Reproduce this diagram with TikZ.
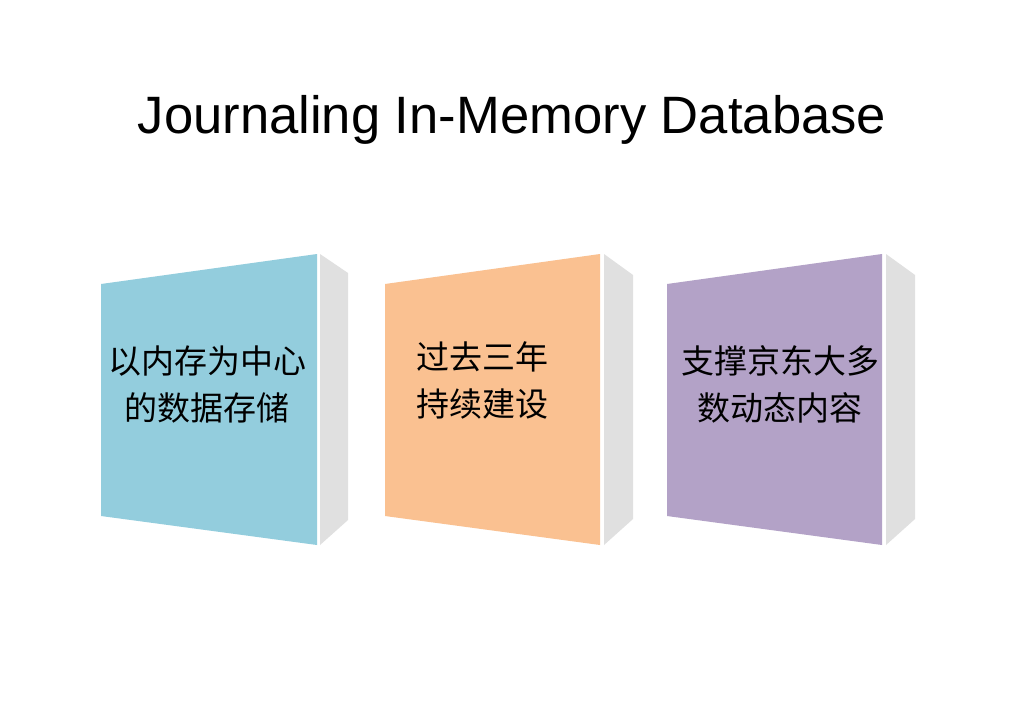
\documentclass[tikz,border=0pt]{standalone}
\usepackage{fontspec}
\setmainfont{Liberation Sans}
\newfontfamily\cjk{Noto Sans CJK SC}
\usetikzlibrary{positioning}

\definecolor{boxblue}{HTML}{93CDDD}
\definecolor{boxorange}{HTML}{FAC191}
\definecolor{boxpurple}{HTML}{B3A2C7}
\definecolor{boxside}{HTML}{E0E0E0}

\tikzset{
    front/.style={fill=#1, draw=none},
    side/.style={fill=boxside, draw=none},
    label/.style={font=\cjk\fontsize{33}{47}\selectfont, text=black, inner sep=0pt},
    heading/.style={font=\fontsize{52.6}{58}\selectfont, text=black, inner sep=0pt}
}

\begin{document}
\begin{tikzpicture}[x=1pt, y=-1pt]
    \useasboundingbox[fill=white] (0,0) rectangle (1024,724);

    % Title
    \node[heading] (title) at (512,120) {Journaling In-Memory Database};

    % First box
    \fill[front=boxblue] (101,284) -- (317,254) -- (317,545) -- (101,516) -- cycle;
    \fill[side] (320,254) -- (348,273) -- (348,520) -- (320,545) -- cycle;
    \node[label, align=center] (storage) at (207,384) {以内存为中心\\的数据存储};

    % Second box
    \fill[front=boxorange] (385,284) -- (600,254) -- (600,545) -- (385,516) -- cycle;
    \fill[side] (604,254) -- (633,275) -- (633,519) -- (604,545) -- cycle;
    \node[label, align=left, anchor=west] (years) at (416,380) {过去三年\\持续建设};

    % Third box
    \fill[front=boxpurple] (667,284) -- (882,254) -- (882,545) -- (667,516) -- cycle;
    \fill[side] (886,254) -- (915,275) -- (915,519) -- (886,545) -- cycle;
    \node[label, align=center] (content) at (780,384) {支撑京东大多\\数动态内容};
\end{tikzpicture}
\end{document}
